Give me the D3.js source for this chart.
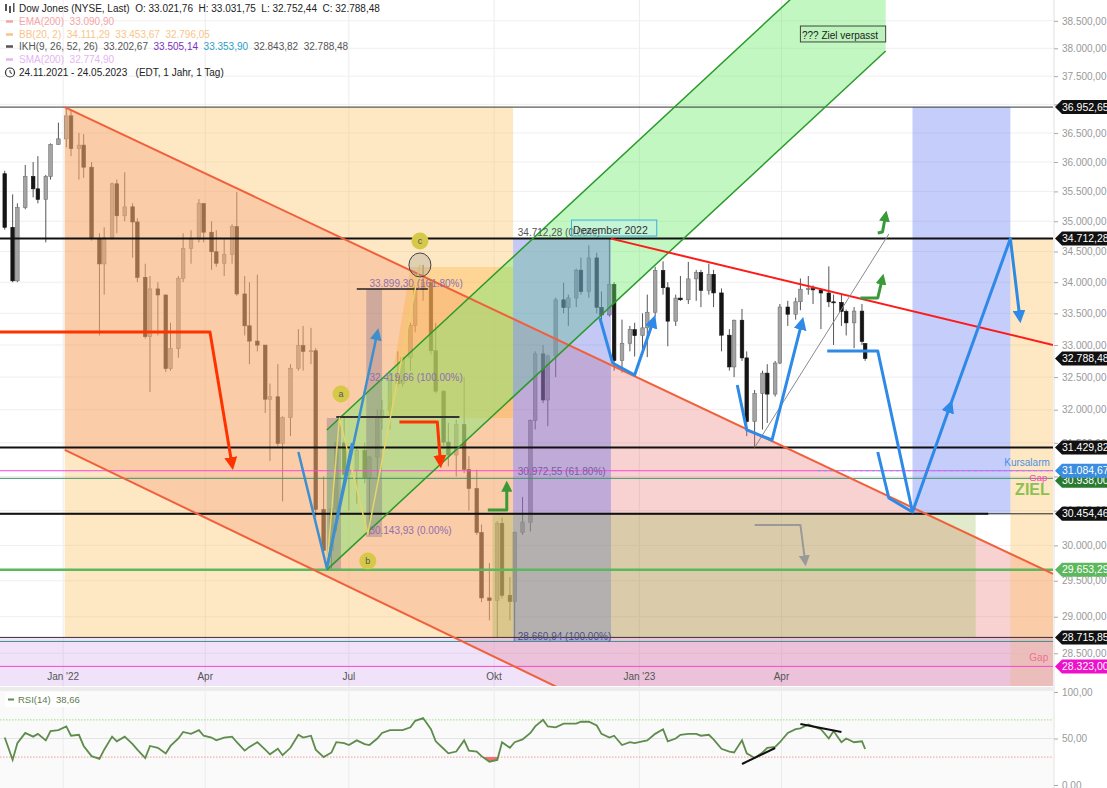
<!DOCTYPE html>
<html>
<head>
<meta charset="utf-8">
<script src="https://cdn.jsdelivr.net/npm/d3@7"></script>
<style>
html,body{margin:0;padding:0;background:#fff;}
svg{display:block;font-family:"Liberation Sans",Arial,Helvetica,sans-serif;}
text{white-space:pre;}
</style>
</head>
<body>
<svg id="chart" width="1107" height="788"></svg>
<script>
// ================= DATA =================
// candles: one candle per 3 trading days, 24.11.2021 - 24.05.2023
const candleOpen = [35800,34899,34022,35227,35754,35544,35365,35753,36302,36398,
36799,36231,36290,35911,34715,34297,34725,35629,35091,35241,
34988,34079,33131,33892,33794,32632,32944,34063,34552,34707,
35294,34818,34496,34308,34451,34911,33811,33302,33061,32998,
32160,32197,31490,31880,32637,32990,32900,32910,30517,29927,
30530,31500,31029,31097,31385,30981,31288,31875,31990,32529,
32397,32803,33309,33913,33999,32910,32283,31510,31318,31775,
31105,30822,30184,29260,29226,30317,29297,29211,30186,30334,
31837,32861,32148,32827,33716,33593,33746,34195,33850,34395,
33597,33476,33966,32757,33027,33241,33147,33270,33518,34190,
33911,33376,33744,33717,34054,34156,33869,34128,33827,33154,
32657,33391,32798,31820,32247,32561,32238,32718,33601,33486,
33685,33887,33897,33876,33826,33684,33675,33531,33349,33536,
33022];
const candleHigh = [35850,35450,35300,35950,36000,36100,35780,36320,36680,36952,
36900,36500,36480,36000,34800,34900,35650,35700,35825,35300,
35050,34300,34100,34000,33800,33350,34100,34800,34850,35370,
35300,35000,34850,34700,34950,35492,34100,34000,34120,33000,
32400,32700,31900,32700,33250,33300,33270,32950,31000,30600,
31520,31900,31150,31450,31500,31300,32000,32150,32600,32900,
32850,33350,33950,34281,34050,33350,32300,31800,31850,32500,
31300,31100,30300,29750,30350,30400,29550,30200,30700,31850,
32900,33000,32850,33750,33990,33800,34220,34400,34600,34480,
33850,34712,34000,33400,33300,33350,33500,33800,34250,34340,
34000,33800,34100,34330,34200,34200,34300,34200,33900,33250,
33400,33570,32900,32300,32600,32700,32750,33650,33700,33750,
34060,34100,33950,33900,34257,33800,33800,33560,33600,33650,
33032];
const candleLow = [34860,34000,34000,35200,35400,35300,34650,35700,36300,36250,
36100,35700,35730,34680,33150,33800,34700,34800,35000,34400,
34000,33100,32272,33150,32580,32600,32800,34000,34300,34650,
34650,34200,34250,34100,34300,33780,33150,32700,32900,31950,
31230,31450,30635,31600,32600,32600,32700,30400,29880,29653,
30200,30900,30500,30600,30900,30144,31000,31700,31700,32350,
32350,32600,33200,33700,32850,32250,31450,31150,31000,31050,
30500,30150,29200,28950,28715,29250,28950,28661,30150,30200,
31700,32100,31750,32500,33500,33300,33600,33800,33750,33500,
33400,33450,32600,32570,32900,32820,32900,32810,33450,33800,
32980,33300,33700,33650,33700,33600,33800,33600,32900,32600,
32500,32750,31600,31430,31700,31800,32200,32700,33300,33400,
33550,33800,33650,33250,33600,33000,33300,33150,32950,33000,
32752];
const candleClose = [34899,34022,35227,35754,35544,35365,35753,36302,36398,36799,
36231,36290,35911,34715,34297,34725,35629,35091,35241,34988,
34079,33131,33892,33794,32632,32944,34063,34552,34707,35294,
34818,34496,34308,34451,34911,33811,33302,33061,32998,32160,
32197,31490,31880,32637,32990,32900,32910,30517,29927,30530,
31500,31029,31097,31385,30981,31288,31875,31990,32529,32397,
32803,33309,33913,33999,32910,32283,31510,31318,31775,31105,
30822,30184,29260,29226,30317,29297,29211,30186,30334,31837,
32861,32148,32827,33716,33593,33746,34195,33850,34395,33597,
33476,33966,32757,33027,33241,33147,33270,33518,34190,33911,
33376,33744,33717,34054,34156,33869,34128,33827,33154,32657,
33391,32798,31820,32247,32561,32238,32718,33601,33486,33685,
33887,33897,33876,33826,33684,33675,33531,33349,33536,33056,
32788];
const rsiValues = [51,27,45,56,52,55,48,58,59,63,
53,54,42,31,28,38,52,47,52,44,
38,29,42,40,34,42,50,57,55,59,
53,51,48,51,52,46,37,41,46,38,
33,39,32,40,54,51,53,38,30,35,
46,45,43,48,44,43,50,56,59,59,
59,62,69,72,60,47,39,34,36,48,
37,36,31,25,27,46,40,46,49,56,
63,70,63,62,66,66,66,68,68,64,
55,51,53,43,46,45,47,48,55,60,
47,50,54,55,55,53,54,49,39,36,
35,48,34,29,35,40,41,46,56,60,
61,65,63,60,50,58,46,50,46,47,
38.7];
const priceTicks = [28500,29000,29500,30000,30500,31000,31500,32000,32500,33000,33500,34000,34500,35000,35500,36000,36500,37000,37500,38000,38500];
const rsiTicks = [0,50,100];
const timeTicks = ["2022-01-01","2022-04-01","2022-07-01","2022-10-01","2023-01-01","2023-04-01"];
const timeTickLabels = ["Jan '22","Apr","Jul","Okt","Jan '23","Apr"];
const levelValues = [36952.65,34712.28,31429.82,31084.67,30972.55,30454.46,29653.29,28715.85,28660.94,28323.00];
const markerValues = [36952.65,34712.28,32788.48,31429.82,30938.00,31084.67,30454.46,29653.29,28715.85,28323.00];

// ================= STYLES =================
const levelStyles = [
  {c:"#333",w:1},{c:"#111",w:2},{c:"#111",w:2},{c:"#ff44dd",w:1},{c:"#3f8f6a",w:1},
  {c:"#222",w:1},{c:"#5cb85c",w:2.5},{c:"#333",w:1},{c:"#3f8f8a",w:1},{c:"#ff44cc",w:1}];
const markerColors = ["#111","#111","#111","#111","#2a7a30","#3b8de0","#111","#5cb85c","#111","#ee11cc"];

// ================= SETUP =================
const svg = d3.select("#chart");
const de = d3.formatLocale({decimal:",",thousands:".",grouping:[3],currency:["",""]});
const fmt = de.format(",.2f");
const parse = d3.timeParse("%Y-%m-%d");
const plotW = 1053, plotH = 686;
const x = d3.scaleTime().domain([parse("2021-11-22"), parse("2023-09-20")]).range([0, plotW]);
const y = d3.scaleLog().domain([28060, 38883]).range([plotH, 0]);
const yR = d3.scaleLinear().domain([0,100]).range([785,692]);
const X = s => x(parse(s));
const P = ([d,v]) => [X(d), y(v)];
const lineGen = d3.line();

const defs = svg.append("defs");
defs.append("clipPath").attr("id","clipMain").append("rect").attr("x",0).attr("y",0).attr("width",plotW).attr("height",plotH);
defs.append("clipPath").attr("id","clipOB").append("rect").attr("x",0).attr("y",0).attr("width",plotW).attr("height",yR(70));
defs.append("clipPath").attr("id","clipOS").append("rect").attr("x",0).attr("y",yR(30)).attr("width",plotW).attr("height",100);
function mk(id,color,size){
  defs.append("marker").attr("id",id).attr("viewBox","0 0 10 10").attr("refX",6).attr("refY",5)
    .attr("markerUnits","userSpaceOnUse").attr("markerWidth",size).attr("markerHeight",size).attr("orient","auto")
    .append("path").attr("d","M0,0L10,5L0,10Z").attr("fill",color);
}
mk("ahBlue","#2e8ae6",13); mk("ahBlueL","#3d8fd0",12); mk("ahGreen","#3a9a3a",11);
mk("ahRed","#ff3300",13); mk("ahGray","#999",11);

svg.append("rect").attr("width",1107).attr("height",788).attr("fill","#fff");

// vertical grid (both panels)
svg.append("g").selectAll("line").data(timeTicks).join("line")
  .attr("x1",d=>X(d)).attr("x2",d=>X(d)).attr("y1",0).attr("y2",788)
  .attr("stroke","#ececec").attr("stroke-width",1);

const g = svg.append("g").attr("clip-path","url(#clipMain)");
g.selectAll("line.hg").data(priceTicks).join("line").attr("class","hg")
  .attr("x1",0).attr("x2",plotW).attr("y1",d=>y(d)).attr("y2",d=>y(d))
  .attr("stroke","#efefef");

// ---------- candles ----------
const tradingDays = d3.timeDay.range(parse("2021-11-24"), parse("2023-05-25")).filter(d=>d.getDay()%6!==0);
const candleDates = candleClose.map((c,i)=>{const ch=tradingDays.slice(i*3,i*3+3);return ch[Math.floor((ch.length-1)/2)];});
const candles = candleClose.map((c,i)=>({d:candleDates[i],o:candleOpen[i],h:candleHigh[i],l:candleLow[i],c:c}));
const gc = g.append("g");
gc.selectAll("line").data(candles).join("line")
  .attr("x1",d=>x(d.d)).attr("x2",d=>x(d.d)).attr("y1",d=>y(d.h)).attr("y2",d=>y(d.l))
  .attr("stroke","#555").attr("stroke-width",1);
gc.selectAll("rect").data(candles).join("rect")
  .attr("x",d=>x(d.d)-1.8).attr("width",3.6)
  .attr("y",d=>y(Math.max(d.o,d.c))).attr("height",d=>Math.max(1,Math.abs(y(d.o)-y(d.c))))
  .attr("fill",d=>d.c>=d.o?"#a4a4a4":"#151515").attr("stroke",d=>d.c>=d.o?"#707070":"#151515").attr("stroke-width",0.6);

// ---------- helpers ----------
function zone(d0,d1,v0,v1,fill){
  g.append("rect").attr("x",X(d0)).attr("width",X(d1)-X(d0)).attr("y",y(v0)).attr("height",y(v1)-y(v0)).attr("fill",fill);
}
function poly(pts,fill){ g.append("path").attr("d",lineGen(pts.map(P))+"Z").attr("fill",fill); }
function path(pts,color,width,marker,dash){
  g.append("path").attr("d",lineGen(pts.map(P))).attr("fill","none").attr("stroke",color).attr("stroke-width",width)
   .attr("stroke-linejoin","round").attr("stroke-linecap","butt")
   .attr("marker-end",marker?`url(#${marker})`:null).attr("stroke-dasharray",dash||null);
}
function label(txt,d,v,color,size,anchor,weight){
  return g.append("text").attr("x",X(d)).attr("y",y(v)).text(txt).attr("fill",color)
   .attr("font-size",size||10).attr("text-anchor",anchor||"start").attr("font-weight",weight||"normal");
}

// ---------- zones ----------
poly([["2022-01-02",36952.65],["2023-09-20",29596],["2023-09-20",25034],["2022-01-02",31393]],"rgba(235,115,115,0.33)");
zone("2022-01-02","2022-10-13",36952.65,28715.85,"rgba(252,198,105,0.40)");
zone("2023-08-24","2023-09-20",34712.28,28060,"rgba(252,198,105,0.40)");
zone("2021-11-22","2023-09-20",28715.85,28060,"rgba(205,160,235,0.30)");
poly([["2022-07-24",31874],["2022-08-09",34247],["2022-10-13",34247],["2022-10-13",31874]],"rgba(255,170,40,0.30)");
poly([["2022-06-17",31693],["2023-06-06",40564],["2023-06-06",37952],["2022-06-17",29653]],"rgba(110,235,110,0.42)");
zone("2022-10-13","2022-12-14",34712.28,28660.94,"rgba(100,110,230,0.38)");
zone("2022-09-30","2023-08-02",30454.46,28715.85,"rgba(150,190,80,0.30)");
zone("2023-06-23","2023-08-24",36952.65,30454.46,"rgba(110,130,245,0.40)");
zone("2022-06-17","2022-06-26",31874,29653,"rgba(110,90,130,0.30)");
zone("2022-07-12","2022-07-22",33890,30120,"rgba(110,90,130,0.30)");

// ---------- horizontal levels ----------
levelValues.forEach((v,i)=>{
  g.append("line").attr("x1",0).attr("x2",plotW).attr("y1",y(v)).attr("y2",y(v))
   .attr("stroke",levelStyles[i].c).attr("stroke-width",levelStyles[i].w);
});
path([["2021-11-22",30454.46],["2023-08-10",30454.46]],"#111",2);
path([["2023-04-24",31084.67],["2023-09-20",31084.67]],"#6aa0f0",1,null,"3,3");

// ---------- channel & trend lines ----------
path([["2022-01-02",36952.65],["2023-09-20",29596]],"#f0603c",2);
path([["2022-01-02",31393],["2023-09-20",25034]],"#f0603c",2);
path([["2022-06-17",29653],["2023-06-06",37952]],"#2a9a2a",1.5);
path([["2022-06-17",31693],["2023-06-06",40564]],"#2a9a2a",1.5);
path([["2022-12-14",34712.28],["2023-09-20",33000]],"#ff1a1a",2);
path([["2023-03-15",31430],["2023-06-08",34788]],"#8a8a8a",1);

// segments of the abc pattern
path([["2022-07-06",33890],["2022-08-20",33890]],"#222",1.5);
path([["2022-06-23",31889],["2022-09-09",31889]],"#333",2);
path([["2022-06-17",29680],["2022-06-25",31874],["2022-07-13",30164],["2022-08-15",34280]],"#e8d46a",1.5);
path([["2022-05-30",31363],["2022-06-17",29680],["2022-07-03",31497]],"#3d8fd0",2.5);
path([["2022-06-17",29680],["2022-07-19",33189]],"#3d8fd0",2.5,"ahBlueL");

// ---------- arrows ----------
path([["2021-11-22",33205],["2022-04-04",33205],["2022-04-18",31170]],"#ff3300",3,"ahRed");
path([["2022-08-02",31814],["2022-08-26",31814],["2022-08-28",31199]],"#ff3300",3,"ahRed");
path([["2022-09-27",30510],["2022-10-09",30510],["2022-10-09",30874]],"#3a9a3a",3,"ahGreen");
path([["2023-05-21",33746],["2023-06-01",33746],["2023-06-04",34069]],"#3a9a3a",3,"ahGreen");
path([["2023-06-01",34805],["2023-06-04",34822],["2023-06-06",35105]],"#3a9a3a",3,"ahGreen");
path([["2023-03-15",30293],["2023-04-13",30293],["2023-04-16",29765]],"#999",2,"ahGray");
path([["2022-12-07",33426],["2022-12-15",32719],["2022-12-29",32533],["2023-01-10",33394]],"#2e8ae6",3,"ahBlue");
path([["2023-03-04",32378],["2023-03-10",31693],["2023-03-26",31542],["2023-04-14",33363]],"#2e8ae6",3,"ahBlue");
path([["2023-04-30",32906],["2023-06-01",32906],["2023-06-23",30480],["2023-07-17",32072]],"#2e8ae6",3,"ahBlue");
path([["2023-07-17",32072],["2023-08-24",34712.28],["2023-08-30",33426]],"#2e8ae6",3,"ahBlue");
path([["2023-06-01",31363],["2023-06-08",30684],["2023-06-23",30480]],"#2e8ae6",3);

// ---------- circles a b c ----------
[["a","2022-06-26",32240],["b","2022-07-13",29779],["c","2022-08-15",34673]].forEach(([t,d,v])=>{
  g.append("circle").attr("cx",X(d)).attr("cy",y(v)).attr("r",8.5).attr("fill","#d6c94a");
  g.append("text").attr("x",X(d)).attr("y",y(v)+3).attr("text-anchor","middle").attr("font-size",9).attr("fill","#555").text(t);
});
g.append("ellipse").attr("cx",X("2022-08-15")).attr("cy",y(34280)).attr("rx",11).attr("ry",12)
  .attr("fill","rgba(150,150,150,0.3)").attr("stroke","#444").attr("stroke-width",1);

// ---------- text annotations ----------
label("34.712,28 (0.00%)","2022-10-16",34755,"#555");
label("33.899,30 (161.80%)","2022-07-14",33923,"#9070b0");
label("32.419,66 (100.00%)","2022-07-14",32440,"#9070b0");
label("30.143,93 (0.00%)","2022-07-14",30164,"#9070b0");
label("30.972,55 (61.80%)","2022-10-16",31022,"#7060a0");
label("28.660,94 (100.00%)","2022-10-16",28681,"#505080");
g.append("rect").attr("x",X("2022-11-19")).attr("y",y(35020)).attr("width",X("2023-01-12")-X("2022-11-19")).attr("height",y(34755)-y(35020))
  .attr("fill","rgba(200,240,255,0.35)").attr("stroke","#3ab0e0").attr("stroke-width",1);
label("Dezember 2022","2022-11-20",34790,"#333",10.5);
g.append("rect").attr("x",X("2023-04-13")).attr("y",y(38405)).attr("width",X("2023-06-06")-X("2023-04-13")).attr("height",y(38115)-y(38405))
  .attr("fill","rgba(180,240,180,0.5)").attr("stroke","#444").attr("stroke-width",1);
label("??? Ziel verpasst","2023-04-14",38170,"#222",10);
label("Kursalarm","2023-09-18",31160,"#4a90e2",10,"end");
label("Gap","2023-09-05",30930,"#ff40c0",9.5);
label("ZIEL","2023-08-27",30735,"#8cc152",16,"start","bold");
label("Gap","2023-09-05",28390,"#f07090",10);

// x-axis labels inside plot
svg.append("g").selectAll("text").data(timeTicks).join("text")
  .attr("x",d=>X(d)).attr("y",680).attr("text-anchor","middle").attr("font-size",10).attr("fill","#555")
  .text((d,i)=>timeTickLabels[i]);

// ---------- right axis ----------
svg.append("line").attr("x1",plotW+1).attr("x2",plotW+1).attr("y1",0).attr("y2",788).attr("stroke","#e0e0e0");
const ax = svg.append("g").attr("transform",`translate(${plotW+1},0)`)
  .call(d3.axisRight(y).tickValues(priceTicks).tickFormat(fmt).tickSize(4).tickPadding(4));
ax.select(".domain").remove();
ax.selectAll("line").attr("stroke","#aaa");
ax.selectAll("text").attr("fill","#999").attr("font-size",10).attr("font-family","Liberation Sans, Arial, sans-serif");

const mg = svg.append("g");
markerValues.forEach((v,i)=>{
  const yy = y(v);
  mg.append("path").attr("d",`M${plotW+2},${yy}L${plotW+9},${yy-7}L1107,${yy-7}L1107,${yy+7}L${plotW+9},${yy+7}Z`)
    .attr("fill",markerColors[i]);
  mg.append("text").attr("x",plotW+9).attr("y",yy+3.6).attr("fill","#fff").attr("font-size",10.5).text(fmt(v));
});

// separator between panels
svg.append("rect").attr("x",0).attr("y",687).attr("width",plotW).attr("height",4).attr("fill","#ececec");

// ---------- RSI panel ----------
const gr = svg.append("g");
gr.append("rect").attr("x",0).attr("y",691).attr("width",plotW).attr("height",97).attr("fill","#fafafa");
timeTicks.forEach(t=>gr.append("line").attr("x1",X(t)).attr("x2",X(t)).attr("y1",691).attr("y2",788).attr("stroke","#ececec"));
gr.append("line").attr("x1",0).attr("x2",plotW).attr("y1",yR(50)).attr("y2",yR(50)).attr("stroke","#e4e4e4");
gr.append("line").attr("x1",0).attr("x2",plotW).attr("y1",yR(70)).attr("y2",yR(70)).attr("stroke","#9ee07a").attr("stroke-dasharray","1.5,1.5");
gr.append("line").attr("x1",0).attr("x2",plotW).attr("y1",yR(30)).attr("y2",yR(30)).attr("stroke","#f29a9a").attr("stroke-dasharray","1.5,1.5");
const rsiPts = rsiValues.map((v,i)=>[x(candleDates[i]),yR(v)]);
gr.append("path").attr("clip-path","url(#clipOB)").attr("d",d3.area().x(d=>d[0]).y0(yR(70)).y1(d=>d[1])(rsiPts)).attr("fill","#7ccf5a");
gr.append("path").attr("clip-path","url(#clipOS)").attr("d",d3.area().x(d=>d[0]).y0(yR(30)).y1(d=>d[1])(rsiPts)).attr("fill","#f07070");
gr.append("path").attr("d",d3.line()(rsiPts)).attr("fill","none").attr("stroke","#5d8c4c").attr("stroke-width",1.8);
[[["2023-03-07",22.6],["2023-03-28",39.8]],[["2023-04-13",65.6],["2023-05-09",57]]].forEach(seg=>{
  gr.append("line").attr("x1",X(seg[0][0])).attr("y1",yR(seg[0][1])).attr("x2",X(seg[1][0])).attr("y2",yR(seg[1][1]))
    .attr("stroke","#111").attr("stroke-width",2);
});
gr.append("rect").attr("x",5).attr("y",692).attr("width",72).attr("height",15).attr("fill","#fff");
gr.append("line").attr("x1",8).attr("x2",14).attr("y1",699.5).attr("y2",699.5).attr("stroke","#5d8c4c").attr("stroke-width",2);
gr.append("text").attr("x",18).attr("y",703).attr("font-size",9.5).attr("fill","#5d7a4d").text("RSI(14)  38,66");
const axR = svg.append("g").attr("transform",`translate(${plotW+1},0)`)
  .call(d3.axisRight(yR).tickValues(rsiTicks).tickFormat(fmt).tickSize(4).tickPadding(4));
axR.select(".domain").remove();
axR.selectAll("line").attr("stroke","#aaa");
axR.selectAll("text").attr("fill","#999").attr("font-size",10).attr("font-family","Liberation Sans, Arial, sans-serif");

// ---------- legend ----------
const lg = svg.append("g").attr("font-size",10);
lg.append("rect").attr("x",5).attr("y",4).attr("width",2).attr("height",7).attr("fill","#555");
lg.append("rect").attr("x",9).attr("y",6).attr("width",2).attr("height",7).attr("fill","#555");
lg.append("rect").attr("x",13).attr("y",3).attr("width",1.5).attr("height",9).attr("fill","#555");
lg.append("text").attr("x",19).attr("y",12).attr("fill","#222").text("Dow Jones (NYSE, Last)  O: 33.021,76  H: 33.031,75  L: 32.752,44  C: 32.788,48");
const legendRows = [
  {y:25,dash:"#f5a5a5",parts:[["EMA(200)  33.090,90","#f5a5a5"]]},
  {y:38,dash:"#f7c58a",parts:[["BB(20, 2)  34.111,29  33.453,67  32.796,05","#f7c58a"]]},
  {y:50,dash:"#555",parts:[["IKH(9, 26, 52, 26)  33.202,67  ","#555"],["33.505,14  ","#7b2fbf"],["33.353,90  ","#2aa0c8"],["32.843,82  32.788,48","#555"]]},
  {y:63,dash:"#e5b5ef",parts:[["SMA(200)  32.774,90","#e5b5ef"]]}
];
legendRows.forEach(r=>{
  lg.append("line").attr("x1",6).attr("x2",13).attr("y1",r.y-3.5).attr("y2",r.y-3.5).attr("stroke",r.dash).attr("stroke-width",2.5);
  const t = lg.append("text").attr("x",19).attr("y",r.y);
  r.parts.forEach(p=>t.append("tspan").attr("fill",p[1]).text(p[0]));
});
lg.append("circle").attr("cx",10).attr("cy",72.5).attr("r",4.5).attr("fill","none").attr("stroke","#333").attr("stroke-width",1.2);
lg.append("path").attr("d","M10,70 L10,72.5 L12,73.5").attr("fill","none").attr("stroke","#333").attr("stroke-width",1);
lg.append("text").attr("x",19).attr("y",76).attr("fill","#222").text("24.11.2021 - 24.05.2023   (EDT, 1 Jahr, 1 Tag)");
</script>
</body>
</html>
